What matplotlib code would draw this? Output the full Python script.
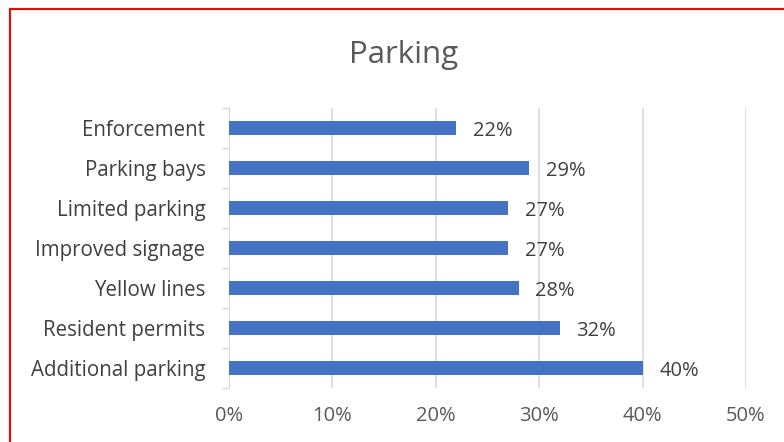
import numpy as np
import matplotlib.pyplot as plt
from matplotlib.patches import Rectangle
from matplotlib.ticker import FuncFormatter, FixedLocator

plt.rcParams['font.family'] = ['Open Sans', 'DejaVu Sans']

# 数据
categories = ['Enforcement', 'Parking bays', 'Limited parking', 'Improved signage',
              'Yellow lines', 'Resident permits', 'Additional parking']
values = [22, 29, 27, 27, 28, 32, 40]
x_ticks = [0, 10, 20, 30, 40, 50]

fig = plt.figure(figsize=(7.84, 4.42), dpi=100)
W, H = 784, 442
ax = fig.add_axes([229 / W, 1 - 388 / H, (746 - 229) / W, (388 - 108) / H])

y = np.arange(len(categories))
ax.barh(y, values, height=0.35, color='#4472C4', zorder=3)
ax.set_ylim(len(categories) - 0.5, -0.5)
ax.set_xlim(0, 50)

# 数据标签
for yi, v in zip(y, values):
    ax.annotate(f'{v}%', (v, yi), xytext=(12, -2), textcoords='offset points',
                va='center', ha='left', fontsize=14.5, color='#404040')

ax.set_yticks(y)
ax.set_yticklabels(categories, fontsize=14.8, color='#404040')
ax.tick_params(axis='y', length=0, pad=17)
ax.yaxis.set_minor_locator(FixedLocator(np.arange(-0.5, len(categories), 1)))
ax.tick_params(axis='y', which='minor', length=5, color='#d9d9d9', width=1)

ax.set_xticks(x_ticks)
ax.xaxis.set_major_formatter(FuncFormatter(lambda v, p: f'{v:.0f}%'))
ax.tick_params(axis='x', length=0, labelsize=14.5, labelcolor='#595959', pad=13)
ax.grid(axis='x', color='#d9d9d9', linewidth=1.2, zorder=0)

for s in ['top', 'right', 'bottom']:
    ax.spines[s].set_visible(False)
ax.spines['left'].set_color('#d9d9d9')

fig.text(404 / W, 1 - 55 / H, 'Parking', ha='center', va='center',
         fontsize=22.5, color='#595959')

# 红色边框
fig.patches.append(Rectangle((10 / W, -0.1), 1.1, 1 - 9 / H + 0.1, transform=fig.transFigure,
                             fill=False, edgecolor='#ff0000', linewidth=1.5))

fig.savefig('out.png', dpi=100)
